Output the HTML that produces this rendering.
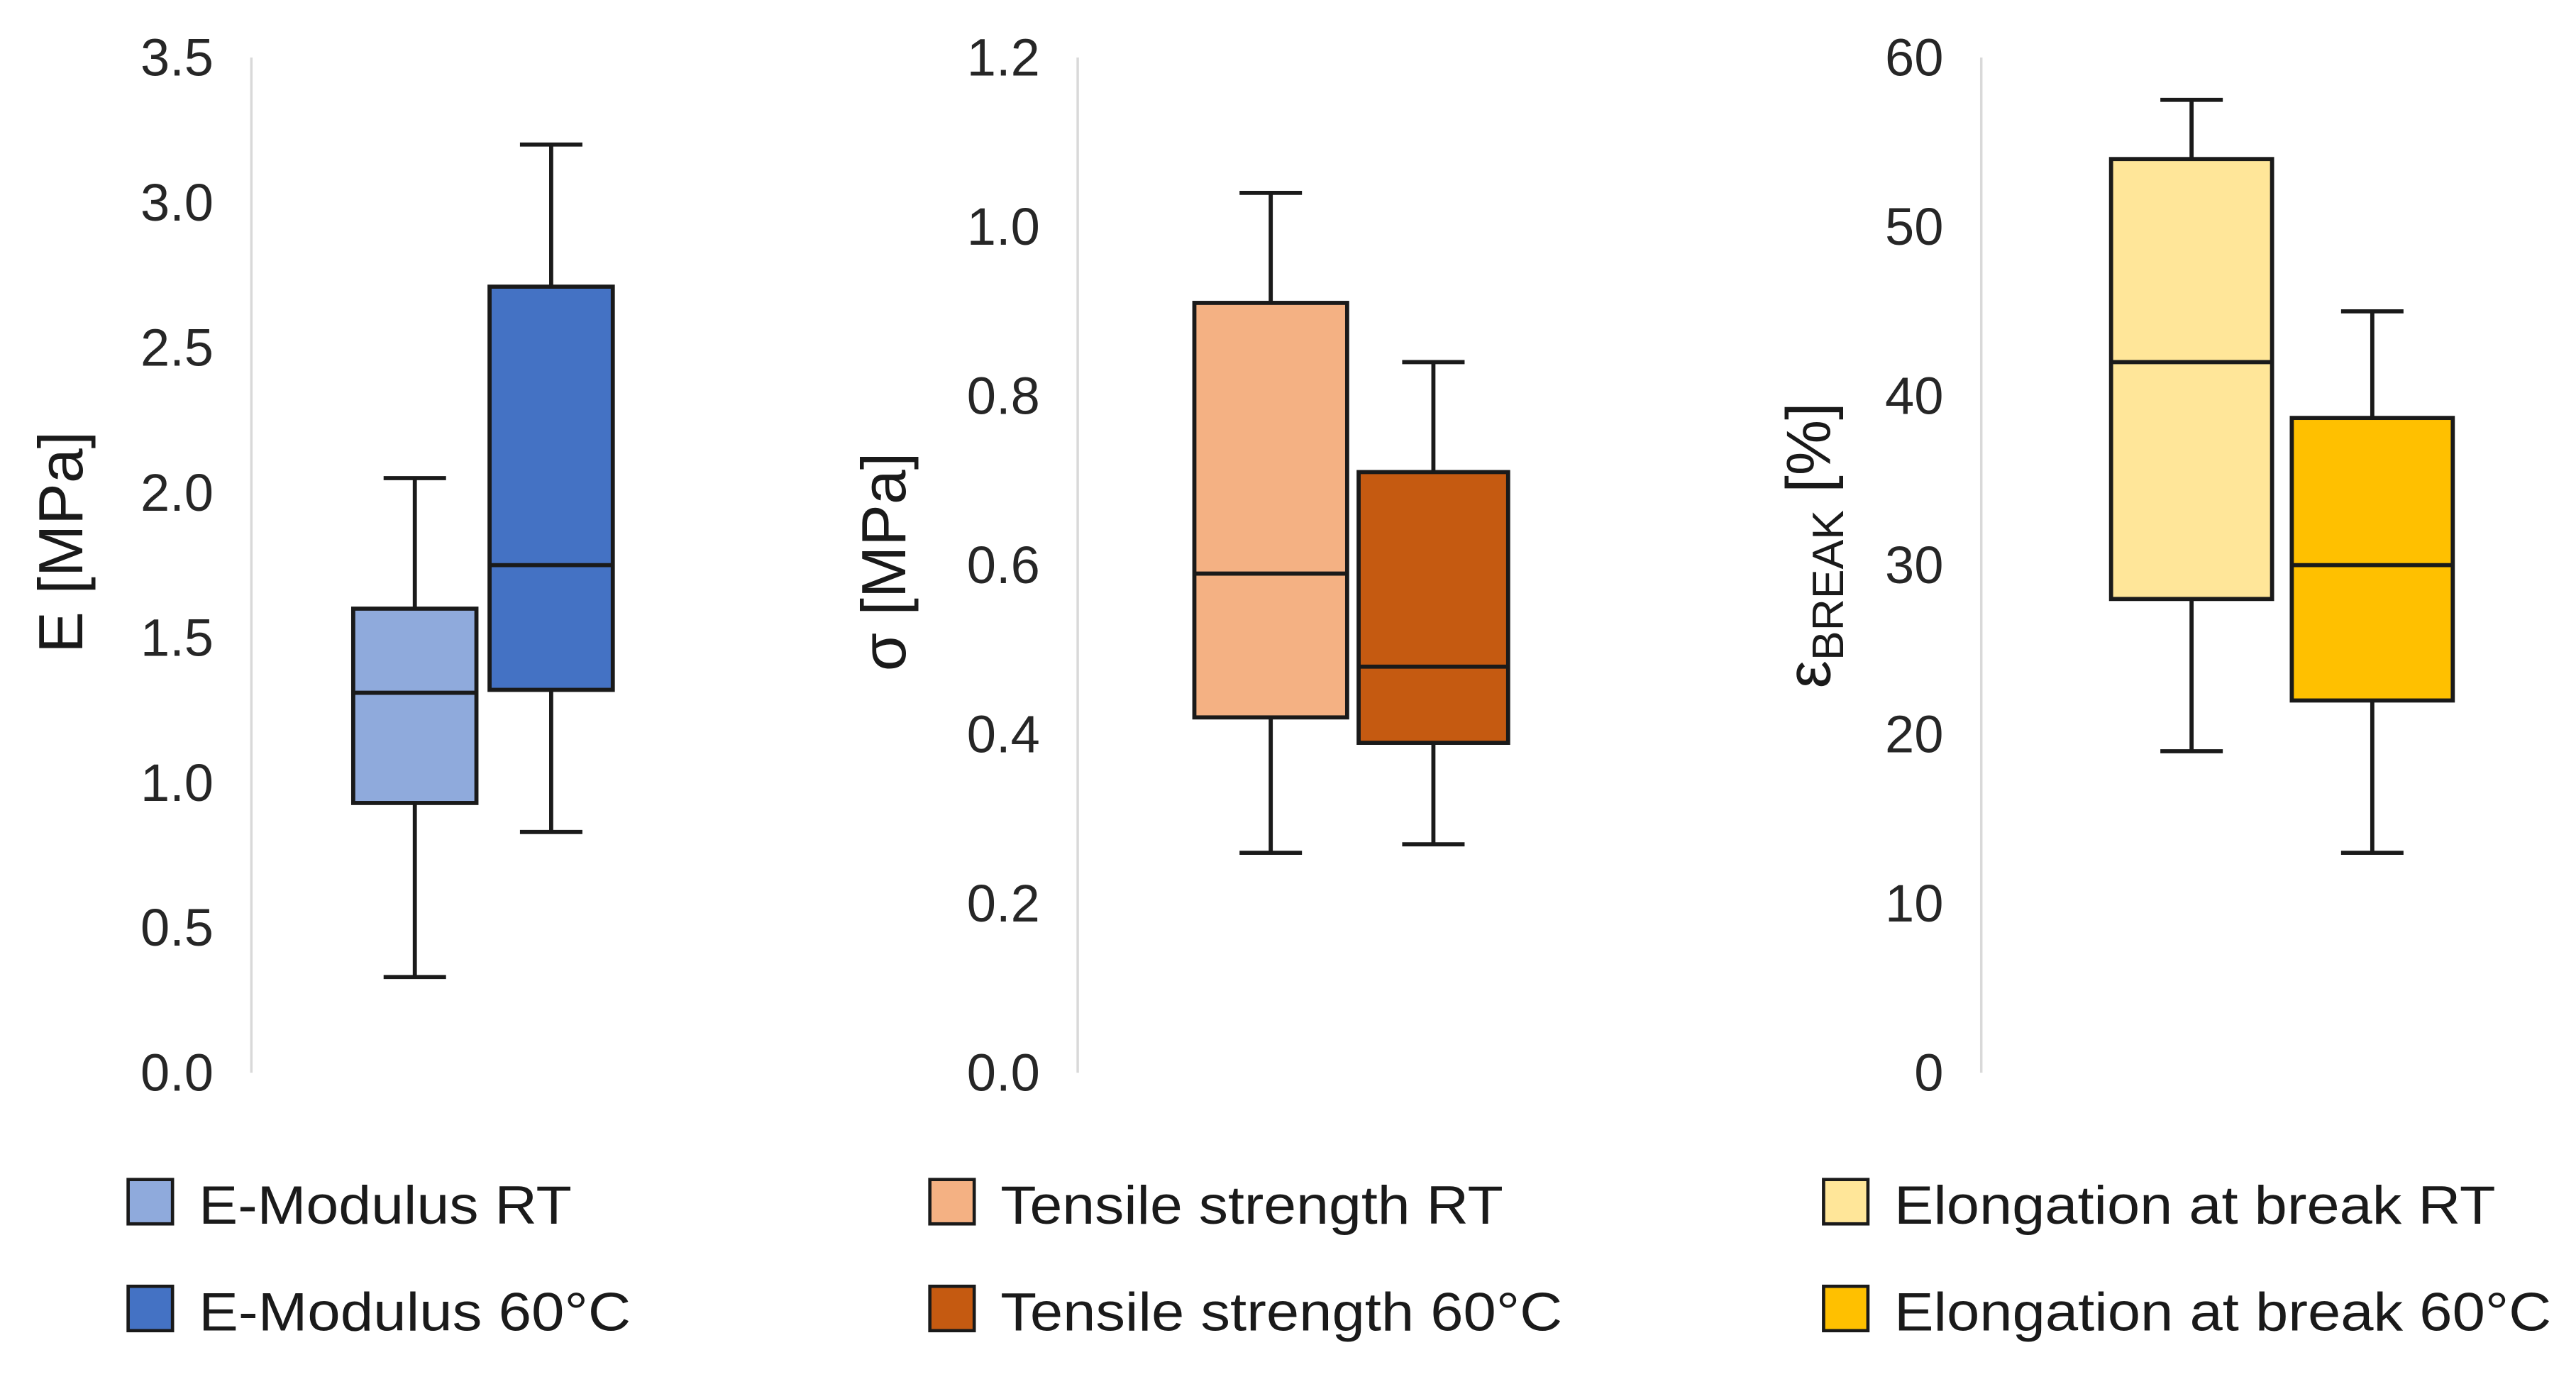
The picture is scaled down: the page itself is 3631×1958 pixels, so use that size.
<!DOCTYPE html>
<html><head><meta charset="utf-8"><style>
html,body{margin:0;padding:0;background:#fff;}
svg{display:block;font-family:"Liberation Sans",sans-serif;}
</style></head><body>
<svg id="chart" width="3631" height="1958" viewBox="0 0 1568 845.5" xmlns="http://www.w3.org/2000/svg"></svg>
<script>
// ---- data ----
const panelNames = ['e-modulus', 'tensile-strength', 'elongation'];
const axisMax = [3.5, 1.2, 60];
const axisStep = [0.5, 0.2, 10];
const tickDecimals = [1, 1, 0];
const seriesLabels = [
  ['E-Modulus RT', 'E-Modulus 60°C'],
  ['Tensile strength RT', 'Tensile strength 60°C'],
  ['Elongation at break RT', 'Elongation at break 60°C']
];
const whiskerLow  = [[0.33, 0.83], [0.26, 0.27], [19, 13]];
const q1          = [[0.93, 1.32], [0.42, 0.39], [28, 22]];
const median      = [[1.31, 1.75], [0.59, 0.48], [42, 30]];
const q3          = [[1.60, 2.71], [0.91, 0.71], [54, 38.7]];
const whiskerHigh = [[2.05, 3.20], [1.04, 0.84], [57.5, 45]];

// ---- layout (styles) ----
const colors = [['#8FAADC', '#4472C4'], ['#F4B183', '#C55A11'], ['#FFE699', '#FFC000']];
const axisX = [153, 656, 1206];
const boxX = [[215, 298], [727, 827], [1285, 1395]];
const boxW = [[75, 75], [93, 91], [98, 98]];
const legX = [78, 566, 1110];
const legW = [[227, 263], [306, 342], [366, 400]];
const yTop = 35, yBot = 653;
const NS = 'http://www.w3.org/2000/svg';
const svg = document.getElementById('chart');
function mk(tag, attrs, parent) {
  const e = document.createElementNS(NS, tag);
  for (const k in attrs) e.setAttribute(k, attrs[k]);
  (parent || svg).appendChild(e);
  return e;
}
function yScale(p, v) { return yBot - (v / axisMax[p]) * (yBot - yTop); }

for (let p = 0; p < 3; p++) {
  const g = mk('g', {});
  
  
  const ax = mk('line', {x1: axisX[p], x2: axisX[p], y1: yTop, y2: yBot, stroke: '#d9d9d9', 'stroke-width': 1.5}, g);
  
  
  const n = Math.round(axisMax[p] / axisStep[p]);
  for (let i = 0; i <= n; i++) {
    const v = i * axisStep[p];
    const t = mk('text', {x: axisX[p] - 23, y: yScale(p, v) + 11, 'text-anchor': 'end', 'font-size': 32, fill: '#262626'}, g);
    t.textContent = v.toFixed(tickDecimals[p]);
    
    
  }
  for (let s = 0; s < 2; s++) {
    const bx = boxX[p][s], bw = boxW[p][s], cx = bx + bw / 2;
    const bg = mk('g', {stroke: '#1a1a1a', 'stroke-width': 2.5}, g);
    
    
    mk('line', {x1: cx, x2: cx, y1: yScale(p, whiskerHigh[p][s]), y2: yScale(p, q3[p][s])}, bg);
    mk('line', {x1: cx, x2: cx, y1: yScale(p, q1[p][s]), y2: yScale(p, whiskerLow[p][s])}, bg);
    mk('line', {x1: cx - 19, x2: cx + 19, y1: yScale(p, whiskerHigh[p][s]), y2: yScale(p, whiskerHigh[p][s])}, bg);
    mk('line', {x1: cx - 19, x2: cx + 19, y1: yScale(p, whiskerLow[p][s]), y2: yScale(p, whiskerLow[p][s])}, bg);
    mk('rect', {x: bx, y: yScale(p, q3[p][s]), width: bw, height: yScale(p, q1[p][s]) - yScale(p, q3[p][s]), fill: colors[p][s]}, bg);
    mk('line', {x1: bx, x2: bx + bw, y1: yScale(p, median[p][s]), y2: yScale(p, median[p][s])}, bg);
    // legend
    const lg = mk('g', {}, g);
    
    
    const ly = 718 + s * 65;
    mk('rect', {x: legX[p], y: ly, width: 27, height: 27, fill: colors[p][s], stroke: '#1a1a1a', 'stroke-width': 2}, lg);
    const lt = mk('text', {x: legX[p] + 43, y: ly + 27, 'font-size': 33, fill: '#1a1a1a', textLength: legW[p][s], lengthAdjust: 'spacingAndGlyphs'}, lg);
    lt.textContent = seriesLabels[p][s];
  }
}
// axis titles
const t1 = mk('text', {transform: 'translate(50,330) rotate(-90)', 'text-anchor': 'middle', 'font-size': 38, fill: '#1a1a1a'});
t1.textContent = 'E [MPa]';


const t2 = mk('text', {transform: 'translate(551,342) rotate(-90)', 'text-anchor': 'middle', 'font-size': 38, fill: '#1a1a1a'});
t2.textContent = 'σ [MPa]';


const t3 = mk('text', {transform: 'translate(1114,332) rotate(-90)', 'text-anchor': 'middle', 'font-size': 38, fill: '#1a1a1a'});


const ts1 = mk('tspan', {}, t3); ts1.textContent = 'ε';
const ts2 = mk('tspan', {'font-size': 27, dy: 8}, t3); ts2.textContent = 'BREAK';
const ts3 = mk('tspan', {dy: -8}, t3); ts3.textContent = '  [%]';
</script>
</body></html>
